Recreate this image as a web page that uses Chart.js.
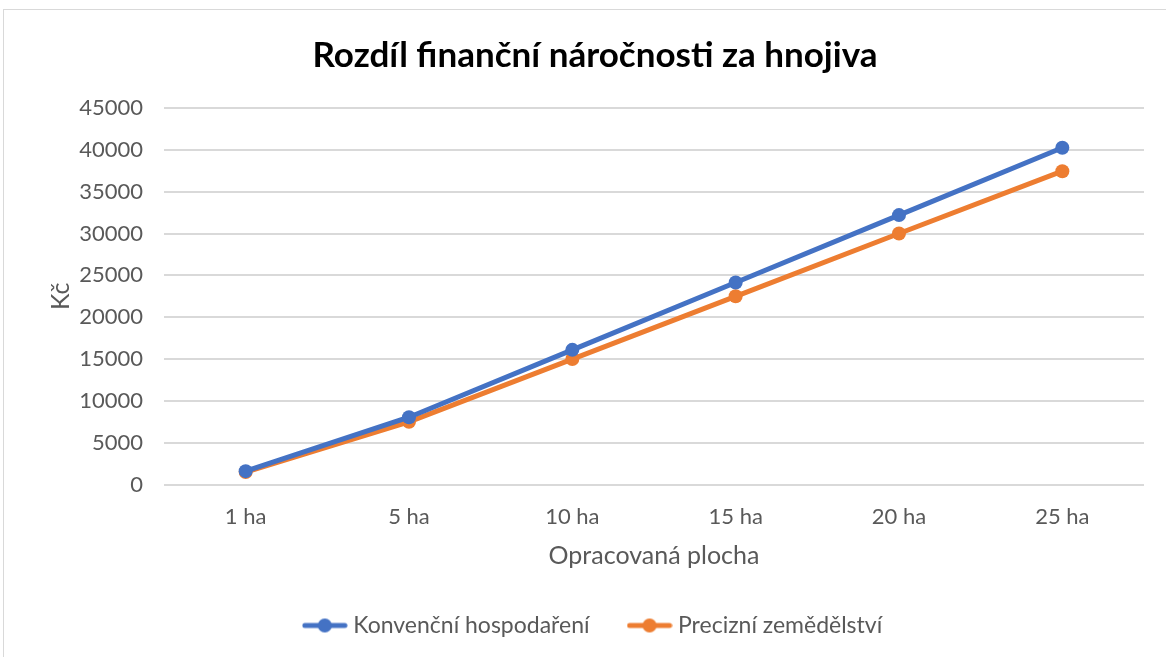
<!DOCTYPE html>
<html>
<head>
<meta charset="utf-8">
<script src="https://cdn.jsdelivr.net/npm/chart.js@4/dist/chart.umd.min.js"></script>
<style>
    body { margin: 0; background: #fff; }
    #ramecek { position: absolute; left: 3px; top: 9px; width: 1170px; height: 660px; border: 1px solid #d9d9d9; }
    #obal { position: absolute; left: 0; top: 0; width: 1166px; height: 657px; }
</style>
</head>
<body>
<div id="ramecek"></div>
<div id="obal"><canvas id="graf" width="1166" height="657"></canvas></div>
<script>
// Data z grafu
const plochy = ['1 ha', '5 ha', '10 ha', '15 ha', '20 ha', '25 ha'];
const konvencni = [1610, 8050, 16100, 24150, 32200, 40250];
const precizni = [1500, 7500, 15000, 22500, 30000, 37450];
const nazvySerii = ['Konvenční hospodaření', 'Precizní zemědělství'];
const barvy = ['#4472C4', '#ED7D31'];

const pismo = 'Lato, "Open Sans", sans-serif';

// Značka do legendy: čára s kolečkem
function vytvorZnacku(barva) {
    const c = document.createElement('canvas');
    c.width = 46;
    c.height = 16;
    const ctx = c.getContext('2d');
    ctx.strokeStyle = barva;
    ctx.lineWidth = 5;
    ctx.lineCap = 'round';
    ctx.beginPath();
    ctx.moveTo(3, 8);
    ctx.lineTo(43, 8);
    ctx.stroke();
    ctx.fillStyle = barva;
    ctx.beginPath();
    ctx.arc(23, 8, 7, 0, Math.PI * 2);
    ctx.fill();
    return c;
}
const znacky = barvy.map(vytvorZnacku);

const ctx = document.getElementById('graf').getContext('2d');
new Chart(ctx, {
    type: 'line',
    data: {
        labels: plochy,
        datasets: [
            {
                label: nazvySerii[0],
                data: konvencni,
                borderColor: barvy[0],
                backgroundColor: barvy[0],
                borderWidth: 5,
                pointRadius: 7,
                pointHoverRadius: 7,
                pointBorderWidth: 0
            },
            {
                label: nazvySerii[1],
                data: precizni,
                borderColor: barvy[1],
                backgroundColor: barvy[1],
                borderWidth: 5,
                pointRadius: 7,
                pointHoverRadius: 7,
                pointBorderWidth: 0
            }
        ]
    },
    options: {
        responsive: false,
        animation: false,
        layout: { padding: { left: 46, right: 22, top: 20, bottom: 10 } },
        plugins: {
            title: {
                display: true,
                text: 'Rozdíl finanční náročnosti za hnojiva',
                color: '#000',
                font: { family: pismo, size: 35, weight: 'bold' },
                padding: { top: 15, bottom: 31 }
            },
            legend: {
                position: 'bottom',
                labels: {
                    usePointStyle: true,
                    pointStyleWidth: 34,
                    padding: 43,
                    color: '#595959',
                    font: { family: pismo, size: 23 },
                    generateLabels(chart) {
                        const zaklad = Chart.defaults.plugins.legend.labels.generateLabels(chart);
                        zaklad.forEach((l, i) => { l.pointStyle = znacky[i]; });
                        return zaklad;
                    }
                }
            },
            tooltip: { enabled: false }
        },
        scales: {
            x: {
                offset: true,
                grid: { display: false },
                border: { display: false },
                ticks: { color: '#595959', font: { family: pismo, size: 22 }, padding: 11 },
                title: {
                    display: true,
                    text: 'Opracovaná plocha',
                    color: '#595959',
                    font: { family: pismo, size: 25 },
                    padding: { top: 0, bottom: 0 }
                }
            },
            y: {
                min: 0,
                max: 45000,
                afterFit(scale) { scale.width = 118; },
                grid: { color: '#d9d9d9', lineWidth: 2, drawTicks: false },
                border: { display: false },
                ticks: {
                    stepSize: 5000,
                    color: '#595959',
                    font: { family: pismo, size: 22 },
                    padding: 21,
                    callback: v => String(v)
                },
                title: {
                    display: true,
                    text: 'Kč',
                    color: '#595959',
                    font: { family: pismo, size: 25 },
                    padding: { top: 0, bottom: 0 }
                }
            }
        }
    }
});
</script>
</body>
</html>
